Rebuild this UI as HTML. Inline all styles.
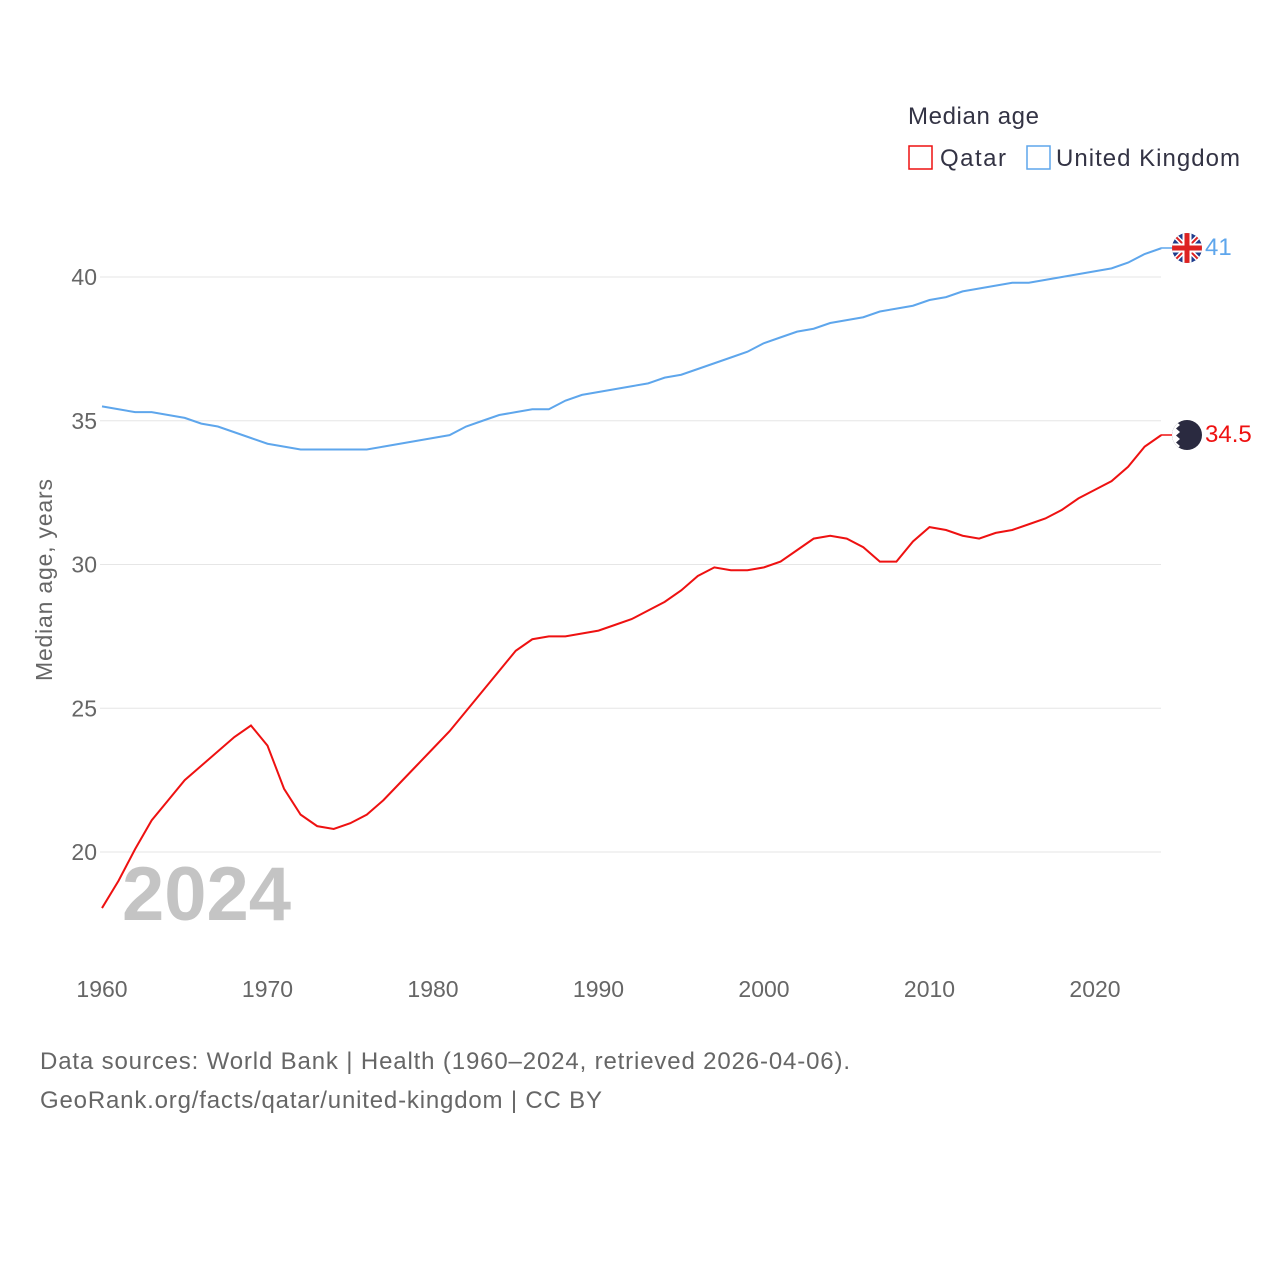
<!DOCTYPE html>
<html><head><meta charset="utf-8">
<style>
body{margin:0;background:#fff;width:1280px;height:1280px;overflow:hidden;font-family:"Liberation Sans",sans-serif}
svg text{font-family:"Liberation Sans",sans-serif}
</style></head>
<body>
<svg id="chart" width="1280" height="1280">
<g id="grid"></g>
<g id="yticks"></g>
<g id="xticks"></g>
<text x="52" y="580" transform="rotate(-90 52 580)" text-anchor="middle" font-size="23" fill="#666" textLength="202">Median age, years</text>
<text x="122" y="920" font-size="76" font-weight="bold" fill="#c4c4c4">2024</text>
<g id="series"></g>
<g>
<text x="908" y="124" font-size="24" fill="#333344" textLength="131">Median age</text>
<g><rect x="909" y="146" width="23" height="23" fill="none" stroke="#ee1111" stroke-width="1.5"/><text x="940" y="166" font-size="24" fill="#333344" textLength="66">Qatar</text></g>
<g><rect x="1027" y="146" width="23" height="23" fill="none" stroke="#5ea6ec" stroke-width="1.5"/><text x="1056" y="166" font-size="24" fill="#333344" textLength="184">United Kingdom</text></g>
</g>
<line x1="1161" y1="248" x2="1172" y2="248" stroke="#5ea6ec" stroke-width="1.5"/>
<line x1="1161" y1="435" x2="1172" y2="435" stroke="#ee1111" stroke-width="1.5"/>
<g>
<clipPath id="cp"><circle cx="1187" cy="248" r="15"/></clipPath>
<g clip-path="url(#cp)"><rect x="1170" y="231" width="34" height="34" fill="#1f3c8c"/>
<path d="M1172 233L1202 263M1202 233L1172 263" stroke="#fff" stroke-width="5"/>
<path d="M1172 233L1202 263M1202 233L1172 263" stroke="#d22" stroke-width="2"/>
<rect x="1170" y="243.5" width="34" height="9" fill="#fff"/><rect x="1182.5" y="231" width="9" height="34" fill="#fff"/>
<rect x="1170" y="245.5" width="34" height="5" fill="#d22"/><rect x="1184.5" y="231" width="5" height="34" fill="#d22"/></g>
</g>
<g>
<clipPath id="cq"><circle cx="1187" cy="435" r="15"/></clipPath>
<g clip-path="url(#cq)"><rect x="1170" y="418" width="34" height="34" fill="#2a2a40"/>
<path d="M1170 418H1180L1176 421.5L1180 425L1176 428.5L1180 432L1176 435.5L1180 439L1176 442.5L1180 446L1176 449.5L1180 452H1170Z" fill="#fff"/></g>
</g>
<text x="1205" y="255" font-size="24" fill="#5ea6ec">41</text>
<text x="1205" y="442" font-size="24" fill="#ee1111">34.5</text>
<text x="40" y="1069" font-size="24" fill="#666" textLength="810">Data sources: World Bank | Health (1960–2024, retrieved 2026-04-06).</text>
<text x="40" y="1108" font-size="24" fill="#666" textLength="562">GeoRank.org/facts/qatar/united-kingdom | CC BY</text>
</svg>
<script>
const years=[];for(let y=1960;y<=2024;y++)years.push(y);
const qatar=[18.05,19.0,20.1,21.1,21.8,22.5,23.0,23.5,24.0,24.4,23.7,22.2,21.3,20.9,20.8,21.0,21.3,21.8,22.4,23.0,23.6,24.2,24.9,25.6,26.3,27.0,27.4,27.5,27.5,27.6,27.7,27.9,28.1,28.4,28.7,29.1,29.6,29.9,29.8,29.8,29.9,30.1,30.5,30.9,31.0,30.9,30.6,30.1,30.1,30.8,31.3,31.2,31.0,30.9,31.1,31.2,31.4,31.6,31.9,32.3,32.6,32.9,33.4,34.1,34.5];
const uk=[35.5,35.4,35.3,35.3,35.2,35.1,34.9,34.8,34.6,34.4,34.2,34.1,34.0,34.0,34.0,34.0,34.0,34.1,34.2,34.3,34.4,34.5,34.8,35.0,35.2,35.3,35.4,35.4,35.7,35.9,36.0,36.1,36.2,36.3,36.5,36.6,36.8,37.0,37.2,37.4,37.7,37.9,38.1,38.2,38.4,38.5,38.6,38.8,38.9,39.0,39.2,39.3,39.5,39.6,39.7,39.8,39.8,39.9,40.0,40.1,40.2,40.3,40.5,40.8,41.0];
const yTicks=[20,25,30,35,40];
const xTicks=[1960,1970,1980,1990,2000,2010,2020];
const NS="http://www.w3.org/2000/svg";
const xs=y=>102+(y-1960)*16.55;
const ys=v=>277+(40-v)*28.75;
const grid=document.getElementById('grid'),yt=document.getElementById('yticks'),xt=document.getElementById('xticks'),ser=document.getElementById('series');
yTicks.forEach(v=>{
 const l=document.createElementNS(NS,'line');
 l.setAttribute('x1',100);l.setAttribute('x2',1161);l.setAttribute('y1',ys(v));l.setAttribute('y2',ys(v));
 l.setAttribute('stroke','#e6e6e6');
 
 
 grid.appendChild(l);
 const t=document.createElementNS(NS,'text');
 t.setAttribute('x',97);t.setAttribute('y',ys(v)+8);t.setAttribute('text-anchor','end');t.setAttribute('font-size','23');t.setAttribute('fill','#666');
 t.textContent=v;
 
 
 yt.appendChild(t);
});
xTicks.forEach(v=>{
 const t=document.createElementNS(NS,'text');
 t.setAttribute('x',xs(v));t.setAttribute('y',997);t.setAttribute('text-anchor','middle');t.setAttribute('font-size','23');t.setAttribute('fill','#666');
 t.textContent=v;
 
 
 xt.appendChild(t);
});
function line(vals,color,name){
 const p=document.createElementNS(NS,'polyline');
 p.setAttribute('points',vals.map((v,i)=>xs(years[i])+','+ys(v)).join(' '));
 p.setAttribute('fill','none');p.setAttribute('stroke',color);p.setAttribute('stroke-width','2');
 
 
 ser.appendChild(p);
}
line(uk,'#5ea6ec','uk-line');
line(qatar,'#ee1111','qatar-line');
</script>
</body></html>
